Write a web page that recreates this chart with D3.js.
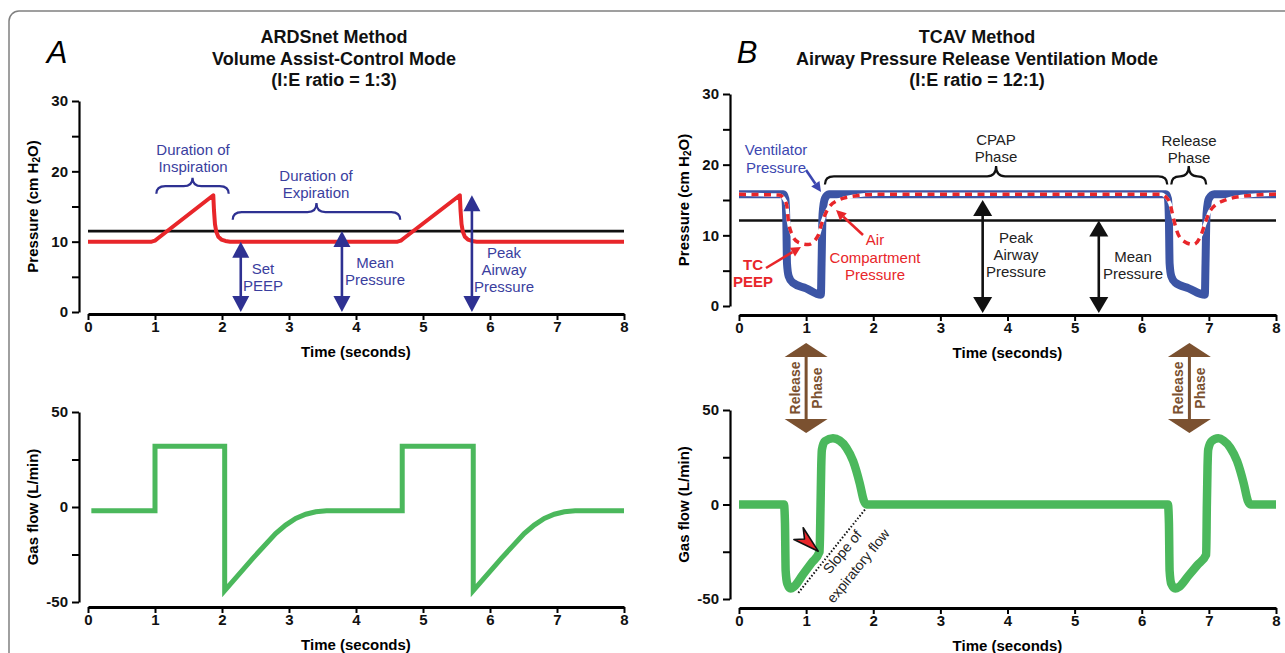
<!DOCTYPE html>
<html>
<head>
<meta charset="utf-8">
<script src="https://cdn.jsdelivr.net/npm/d3@7"></script>
<style>
body { margin:0; background:#fff; }
text { font-family:"Liberation Sans", Arial, Helvetica, sans-serif; }
</style>
</head>
<body>
<script>
// ---- data ----
var timeTicks = [0,1,2,3,4,5,6,7,8];
var pressureTicks = [0,5,10,15,20,25,30];
var flowTicks = [-50,-25,0,25,50];

// A: ARDSnet, [time s, pressure cm H2O]
var ardsPressure = [[0,10],[0.95,10],[1.0,10.15],[1.04,10.45],[1.87,16.6],[1.88,14.5],[1.895,12.5],[1.915,11.4],[1.945,10.7],[1.99,10.3],[2.05,10.1],[2.12,10],
  [4.62,10],[4.67,10.15],[4.71,10.45],[5.55,16.6],[5.56,14.5],[5.575,12.5],[5.595,11.4],[5.625,10.7],[5.67,10.3],[5.73,10.1],[5.8,10],[8,10]];
var ardsMean = 11.5;
// A: gas flow [time s, L/min]
var ardsFlow = [[0.05,-2],[1.0,-2],[1.0,32],[2.04,32],[2.04,-44],[2.46,-27],[2.8,-14],[2.95,-9.5],[3.1,-6],[3.25,-3.8],[3.4,-2.5],[3.56,-2],
  [4.69,-2],[4.69,32],[5.75,32],[5.75,-44],[6.17,-27],[6.51,-14],[6.66,-9.5],[6.81,-6],[6.96,-3.8],[7.11,-2.5],[7.27,-2],[8,-2]];

// B: TCAV
var tcavVent = [[0,15.8],[0.66,15.8],[0.69,15.2],[0.705,12],[0.715,6],[0.74,4.2],[0.8,3.3],[1.0,2.5],[1.22,1.6],[1.23,6],[1.245,13],[1.28,15.2],[1.34,15.8],
  [6.36,15.8],[6.39,15.2],[6.405,12],[6.415,6],[6.44,4.2],[6.5,3.3],[6.7,2.5],[6.94,1.6],[6.95,6],[6.965,13],[7.0,15.2],[7.08,15.8],[8,15.8]];
var tcavAir = [[0,15.8],[0.6,15.7],[0.66,15.3],[0.71,14.3],[0.735,12.1],[0.785,10.2],[0.885,9.0],[1.03,8.7],[1.18,10.0],[1.23,11.6],[1.31,13.5],[1.46,14.9],[1.75,15.6],[2.05,15.8],
  [6.3,15.8],[6.34,15.6],[6.42,14.5],[6.47,12.5],[6.52,10.7],[6.62,9.2],[6.77,8.7],[6.89,10.2],[6.94,11.6],[7.02,13.5],[7.22,14.9],[7.57,15.6],[7.96,15.8],[8,15.8]];
var tcavMean = 12.1;
var tcavFlow = [[0,0],[0.67,0],[0.685,-10],[0.695,-35],[0.72,-42],[0.77,-44.5],[0.82,-43.5],[0.95,-37.2],[1.08,-30.9],[1.2,-25],[1.215,0],[1.225,20],[1.235,29],[1.28,33.5],[1.4,35],[1.5,33.8],[1.6,30],[1.7,23],[1.8,11],[1.86,2],[1.9,0],
  [6.39,0],[6.405,-10],[6.415,-35],[6.44,-42],[6.5,-44.5],[6.56,-43.5],[6.7,-37.5],[6.83,-32],[6.96,-26.5],[6.97,0],[6.98,20],[6.99,29],[7.04,33.5],[7.14,35],[7.22,33.8],[7.32,30],[7.42,23],[7.52,11],[7.58,2],[7.62,0],[8,0]];

// annotations
var ardsArrows = [{t:2.28, top:10}, {t:3.79, top:ardsMean}, {t:5.73, top:16.6}];
var ardsBraces = [{t0:1.02, t1:2.1, end:16.8, mid:17.9, tip:19.1}, {t0:2.16, t1:4.66, end:13.1, mid:14.2, tip:15.5}];
var tcavArrows = [{t:3.63, top:15.0}, {t:5.36, top:tcavMean}];
var tcavBraces = [{t0:1.28, t1:6.38, end:17.2, mid:18.35, tip:19.8}, {t0:6.44, t1:6.96, end:17.2, mid:18.35, tip:19.8}];
var releaseTimes = [1.0, 6.71];
var slopeLine = [[0.884,-46.7],[1.878,-2.6]];

var navy = "#2e3192", navyText = "#3a3e9e", red = "#e8262a", blue = "#3c55a5", green = "#4bb85c", brown = "#7b5130";

var svg = d3.select("body").append("svg")
    .attr("width", 1285).attr("height", 653);

// outer frame
svg.append("rect")
    .attr("x", 9).attr("y", 11).attr("rx", 10).attr("ry", 10)
    .attr("width", 1300).attr("height", 700)
    .attr("fill", "none").attr("stroke", "#808080").attr("stroke-width", 1.5);

// scales
var xA = d3.scaleLinear().domain([0,8]).range([88,624]);
var xB = d3.scaleLinear().domain([0,8]).range([739,1276]);
var yAp = d3.scaleLinear().domain([0,30]).range([312,101]);
var yAf = d3.scaleLinear().domain([-50,50]).range([602,412]);
var yBp = d3.scaleLinear().domain([0,30]).range([306,94]);
var yBf = d3.scaleLinear().domain([-50,50]).range([599,410]);

function drawAxes(x, y, yTicks, step, axisY, axisX, title, titleX) {
    var yg = svg.append("g").attr("transform", "translate(" + axisX + ",0)")
        .call(d3.axisLeft(y).tickValues(yTicks).tickSize(7).tickSizeOuter(0).tickPadding(4)
            .tickFormat(function(d) { return d % step == 0 ? d : ""; }));
    yg.select(".domain").attr("stroke-width", 2.2);
    yg.selectAll(".tick line").attr("stroke-width", 2);
    yg.selectAll("text").attr("font-size", 15).attr("font-weight", "bold").attr("fill", "#111");

    var xg = svg.append("g").attr("transform", "translate(0," + axisY + ")")
        .call(d3.axisBottom(x).tickValues(timeTicks).tickSize(6).tickSizeOuter(0).tickPadding(1));
    xg.select(".domain").attr("stroke-width", 3);
    xg.selectAll(".tick line").attr("stroke-width", 2);
    xg.selectAll("text").attr("font-size", 15).attr("font-weight", "bold").attr("fill", "#111");

    svg.append("text")
        .attr("x", (x.range()[0] + x.range()[1]) / 2).attr("y", axisY + 43)
        .attr("text-anchor", "middle").attr("font-size", 15).attr("font-weight", "bold")
        .text("Time (seconds)");

    var yc = (y.range()[0] + y.range()[1]) / 2;
    var t = svg.append("text")
        .attr("transform", "translate(" + titleX + "," + yc + ") rotate(-90)")
        .attr("text-anchor", "middle").attr("font-size", 15).attr("font-weight", "bold");
    if (title == "p") {
        t.append("tspan").text("Pressure (cm H");
        t.append("tspan").attr("font-size", 10).attr("dy", 2).text("2");
        t.append("tspan").attr("dy", -2).text("O)");
    } else {
        t.text(title);
    }
}

function lines(texts, cx, y0, dy, color, size, weight) {
    texts.forEach(function(s, i) {
        svg.append("text").attr("x", cx).attr("y", y0 + i * dy)
            .attr("text-anchor", "middle").attr("font-size", size)
            .attr("font-weight", weight || "normal").attr("fill", color).text(s);
    });
}

function doubleArrow(x, yBot, yTop, w, h, color) {
    svg.append("line").attr("x1", x).attr("x2", x).attr("y1", yBot - h + 2).attr("y2", yTop + h - 2)
        .attr("stroke", color).attr("stroke-width", 2.6);
    svg.append("path").attr("d", "M" + x + "," + yTop + "L" + (x - w/2) + "," + (yTop + h) + "L" + (x + w/2) + "," + (yTop + h) + "Z")
        .attr("fill", color);
    svg.append("path").attr("d", "M" + x + "," + yBot + "L" + (x - w/2) + "," + (yBot - h) + "L" + (x + w/2) + "," + (yBot - h) + "Z")
        .attr("fill", color);
}

function brace(x0, x1, yEnd, yMid, yTip, color) {
    var xc = (x0 + x1) / 2, r = Math.min(9, (x1 - x0) / 4);
    var d = "M" + x0 + "," + yEnd + "Q" + x0 + "," + yMid + " " + (x0 + r) + "," + yMid +
        "L" + (xc - r) + "," + yMid + "Q" + xc + "," + yMid + " " + xc + "," + yTip +
        "Q" + xc + "," + yMid + " " + (xc + r) + "," + yMid +
        "L" + (x1 - r) + "," + yMid + "Q" + x1 + "," + yMid + " " + x1 + "," + yEnd;
    svg.append("path").attr("d", d).attr("fill", "none").attr("stroke", color).attr("stroke-width", 2.2);
}

function pointer(x1, y1, x2, y2, color) {
    var a = Math.atan2(y2 - y1, x2 - x1), L = 10, W = 5;
    var bx = x2 - L * Math.cos(a), by = y2 - L * Math.sin(a);
    svg.append("line").attr("x1", x1).attr("y1", y1).attr("x2", bx).attr("y2", by)
        .attr("stroke", color).attr("stroke-width", 2.6);
    svg.append("path").attr("d", "M" + x2 + "," + y2 +
        "L" + (bx + W * Math.sin(a)) + "," + (by - W * Math.cos(a)) +
        "L" + (bx - W * Math.sin(a)) + "," + (by + W * Math.cos(a)) + "Z").attr("fill", color);
}

// ---- titles ----
lines(["ARDSnet Method", "Volume Assist-Control Mode", "(I:E ratio = 1:3)"], 334, 43, 21.5, "#111", 18, "bold");
lines(["TCAV Method", "Airway Pressure Release Ventilation Mode", "(I:E ratio = 12:1)"], 977, 43, 21.5, "#111", 18, "bold");
svg.append("text").attr("x", 57).attr("y", 63).attr("text-anchor", "middle")
    .attr("font-size", 31).attr("font-style", "italic").text("A");
svg.append("text").attr("x", 747).attr("y", 63).attr("text-anchor", "middle")
    .attr("font-size", 31).attr("font-style", "italic").text("B");

// ---- axes ----
drawAxes(xA, yAp, pressureTicks, 10, 314, 79, "p", 38);
drawAxes(xA, yAf, flowTicks, 50, 607, 79, "Gas flow (L/min)", 38);
drawAxes(xB, yBp, pressureTicks, 10, 315, 730, "p", 689);
drawAxes(xB, yBf, flowTicks, 50, 608, 730, "Gas flow (L/min)", 689);

// ---- panel A pressure ----
svg.append("line").attr("x1", xA(0)).attr("x2", xA(8)).attr("y1", yAp(ardsMean)).attr("y2", yAp(ardsMean))
    .attr("stroke", "#111").attr("stroke-width", 2.7);
svg.append("path").datum(ardsPressure)
    .attr("d", d3.line().x(function(d) { return xA(d[0]); }).y(function(d) { return yAp(d[1]); }))
    .attr("fill", "none").attr("stroke", red).attr("stroke-width", 4).attr("stroke-linejoin", "round");

ardsBraces.forEach(function(b) { brace(xA(b.t0), xA(b.t1), yAp(b.end), yAp(b.mid), yAp(b.tip), navy); });
ardsArrows.forEach(function(a) { doubleArrow(xA(a.t), yAp(0), yAp(a.top), 17, 16, navy); });

lines(["Duration of", "Inspiration"], 193, 155, 17, navyText, 15);
lines(["Duration of", "Expiration"], 316, 181, 17, navyText, 15);
lines(["Set", "PEEP"], 263, 274, 17, navyText, 15);
lines(["Mean", "Pressure"], 375, 268, 17, navyText, 15);
lines(["Peak", "Airway", "Pressure"], 504, 258, 17, navyText, 15);

// ---- panel A flow ----
svg.append("path").datum(ardsFlow)
    .attr("d", d3.line().x(function(d) { return xA(d[0]); }).y(function(d) { return yAf(d[1]); }))
    .attr("fill", "none").attr("stroke", green).attr("stroke-width", 5).attr("stroke-linejoin", "miter");

// ---- panel B pressure ----
svg.append("line").attr("x1", xB(0)).attr("x2", xB(8)).attr("y1", yBp(tcavMean)).attr("y2", yBp(tcavMean))
    .attr("stroke", "#111").attr("stroke-width", 2.7);
var lineB = d3.line().x(function(d) { return xB(d[0]); }).y(function(d) { return yBp(d[1]); }).curve(d3.curveMonotoneX);
svg.append("path").datum(tcavVent).attr("d", lineB)
    .attr("fill", "none").attr("stroke", blue).attr("stroke-width", 8);
svg.append("path").datum(tcavAir).attr("d", lineB)
    .attr("fill", "none").attr("stroke", "#fff").attr("stroke-width", 3.5);
svg.append("path").datum(tcavAir).attr("d", lineB)
    .attr("fill", "none").attr("stroke", red).attr("stroke-width", 3.5).attr("stroke-dasharray", "7,5.5");

tcavBraces.forEach(function(b) { brace(xB(b.t0), xB(b.t1), yBp(b.end), yBp(b.mid), yBp(b.tip), "#111"); });
tcavArrows.forEach(function(a) { doubleArrow(xB(a.t), 313, yBp(a.top), 19, 16, "#111"); });

lines(["CPAP", "Phase"], 996, 145, 17, "#222", 15);
lines(["Release", "Phase"], 1189, 146, 17, "#222", 15);
lines(["Peak", "Airway", "Pressure"], 1016, 243, 17, "#222", 15);
lines(["Mean", "Pressure"], 1133, 262, 17, "#222", 15);
lines(["Ventilator", "Pressure"], 776, 155, 17.5, "#3c47b0", 15);
lines(["TC", "PEEP"], 753, 270, 17, red, 15, "bold");
lines(["Air", "Compartment", "Pressure"], 875, 245, 17.5, red, 15);

pointer(806, 170, 821, 192, "#3c47b0");
pointer(766, 268, 801, 247, red);
pointer(863, 235, 836, 210, red);

// ---- release phase arrows between B panels ----
releaseTimes.forEach(function(t) {
    var x = xB(t), top = 343, bot = 433, w = 43, h = 14;
    svg.append("rect").attr("x", x - 1.5).attr("y", top + h - 1).attr("width", 3).attr("height", bot - top - 2 * h + 2).attr("fill", brown);
    svg.append("path").attr("d", "M" + x + "," + top + "L" + (x - w/2) + "," + (top + h) + "L" + (x + w/2) + "," + (top + h) + "Z").attr("fill", brown);
    svg.append("path").attr("d", "M" + x + "," + bot + "L" + (x - w/2) + "," + (bot - h) + "L" + (x + w/2) + "," + (bot - h) + "Z").attr("fill", brown);
    svg.append("text").attr("transform", "translate(" + (x - 6) + ",388) rotate(-90)")
        .attr("text-anchor", "middle").attr("font-size", 14).attr("font-weight", "bold").attr("fill", brown).text("Release");
    svg.append("text").attr("transform", "translate(" + (x + 16) + ",388) rotate(-90)")
        .attr("text-anchor", "middle").attr("font-size", 14).attr("font-weight", "bold").attr("fill", brown).text("Phase");
});

// ---- panel B flow ----
svg.append("path").datum(slopeLine)
    .attr("d", d3.line().x(function(d) { return xB(d[0]); }).y(function(d) { return yBf(d[1]); }))
    .attr("stroke", "#111").attr("stroke-width", 2).attr("stroke-dasharray", "1.5,2");
svg.append("path").datum(tcavFlow)
    .attr("d", d3.line().x(function(d) { return xB(d[0]); }).y(function(d) { return yBf(d[1]); }).curve(d3.curveMonotoneX))
    .attr("fill", "none").attr("stroke", green).attr("stroke-width", 8.5);

svg.append("text").attr("transform", "translate(846,555) rotate(-50)")
    .attr("text-anchor", "middle").attr("font-size", 14).attr("fill", "#222").text("Slope of");
svg.append("text").attr("transform", "translate(862,569) rotate(-51)")
    .attr("text-anchor", "middle").attr("font-size", 14).attr("fill", "#222").text("expiratory flow");

// red dart pointing at the flow curve
var tip = [xB(1.18), yBf(-24.7)];
svg.append("path")
    .attr("d", "M" + tip[0] + "," + tip[1] + "L" + (tip[0] - 15) + "," + (tip[1] - 23.4) +
        "L" + (tip[0] - 13.7) + "," + (tip[1] - 12.2) + "L" + (tip[0] - 24.3) + "," + (tip[1] - 11.7) + "Z")
    .attr("fill", red).attr("stroke", "#111").attr("stroke-width", 1.6).attr("stroke-linejoin", "round");
</script>
</body>
</html>
